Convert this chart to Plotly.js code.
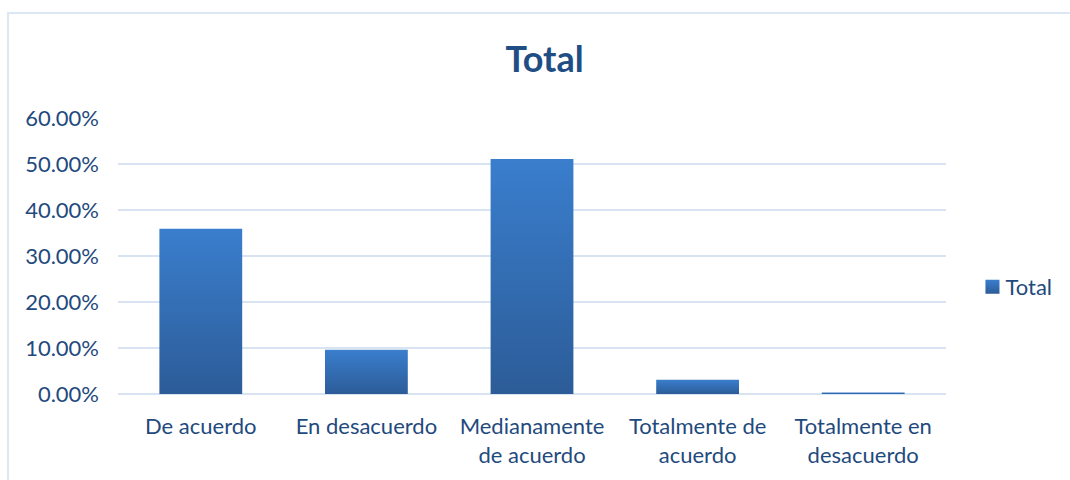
<!DOCTYPE html>
<html>
<head>
<meta charset="utf-8">
<script src="https://cdn.plot.ly/plotly-3.0.1.min.js"></script>
<style>
  html, body { margin:0; padding:0; background:#fff; }
  #wrap { position:relative; width:1070px; height:480px; overflow:hidden; }
  #frame { position:absolute; left:7px; top:12px; width:1100px; height:520px;
           border-top:2px solid #DCE7F4; border-left:2px solid #DCE7F4; box-sizing:border-box; }
  #chart { position:absolute; left:0; top:0; width:1070px; height:480px; }
</style>
</head>
<body>
<div id="wrap">
  <div id="frame"></div>
  <div id="chart"></div>
</div>
<script>
const categories = ["De acuerdo", "En desacuerdo", "Medianamente<br>de acuerdo", "Totalmente de<br>acuerdo", "Totalmente en<br>desacuerdo"];
const values = [0.359, 0.096, 0.511, 0.031, 0.003];
const seriesName = "Total";
const yTicks = [0, 0.1, 0.2, 0.3, 0.4, 0.5, 0.6];

const textColor = "#1F4A7E";
const font = "Lato, 'Open Sans', sans-serif";

const trace = {
  type: "bar",
  x: categories,
  y: values,
  name: seriesName,
  marker: { color: "#3470B8", line: { width: 0 } },
  hoverinfo: "skip"
};

const layout = {
  width: 1070, height: 480,
  paper_bgcolor: "rgba(0,0,0,0)",
  plot_bgcolor: "rgba(0,0,0,0)",
  margin: { l: 118, r: 124, t: 118, b: 86 },
  bargap: 0.5,
  showlegend: true,
  title: {
    text: "<b>Total</b>",
    font: { family: font, size: 36, color: "#1F4E85" },
    x: 0.509, xanchor: "center",
    y: 0.877, yanchor: "middle"
  },
  font: { family: font, color: textColor, size: 22 },
  xaxis: {
    type: "category",
    tickfont: { family: font, size: 22, color: textColor },
    showgrid: false, zeroline: false, showline: false,
    ticks: "", ticklabelstandoff: 17
  },
  yaxis: {
    range: [0, 0.6],
    tickvals: yTicks,
    tickformat: ".2%",
    tickfont: { family: font, size: 22, color: textColor },
    showgrid: true, gridcolor: "#D9E4F2", gridwidth: 1.5,
    zeroline: true, zerolinecolor: "#D9E4F2", zerolinewidth: 1.5,
    showline: false, ticks: "", ticklabelstandoff: 18
  },
  legend: {
    x: 1.0235, xanchor: "left",
    y: 0.388, yanchor: "middle",
    font: { family: font, size: 22, color: textColor },
    bgcolor: "rgba(0,0,0,0)"
  }
};

Plotly.newPlot("chart", [trace], layout, { displayModeBar: false, staticPlot: true }).then(function (gd) {
  const svg = gd.querySelector("svg.main-svg");
  const ns = "http://www.w3.org/2000/svg";
  let defs = svg.querySelector("defs");
  if (!defs) { defs = document.createElementNS(ns, "defs"); svg.insertBefore(defs, svg.firstChild); }
  const grad = document.createElementNS(ns, "linearGradient");
  grad.setAttribute("id", "barGrad");
  grad.setAttribute("x1", "0"); grad.setAttribute("y1", "0");
  grad.setAttribute("x2", "0"); grad.setAttribute("y2", "1");
  [["0%", "#3A7ECD"], ["100%", "#2C5C98"]].forEach(function (s) {
    const st = document.createElementNS(ns, "stop");
    st.setAttribute("offset", s[0]); st.setAttribute("stop-color", s[1]);
    grad.appendChild(st);
  });
  defs.appendChild(grad);
  gd.querySelectorAll(".barlayer .point path").forEach(function (p) { p.style.fill = "url(#barGrad)"; });
  gd.querySelectorAll(".legend .legendpoints path").forEach(function (p) {
    p.style.fill = "url(#barGrad)";
    p.setAttribute("transform", "translate(27,0) scale(1.17)");
  });
});
</script>
</body>
</html>
